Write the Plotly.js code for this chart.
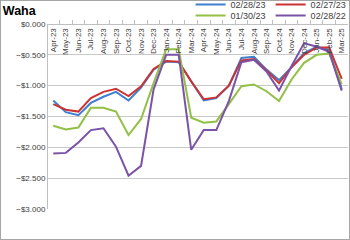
<!DOCTYPE html>
<html><head><meta charset="utf-8">
<script src="https://cdn.plot.ly/plotly-3.0.1.min.js"></script>
<style>
html,body{margin:0;padding:0;background:#fff;}
#wrap{position:relative;width:350px;height:240px;}
#chart{width:350px;height:240px;}
#frame{position:absolute;left:0;top:0;width:348px;height:238px;border:1px solid #a6a6a6;pointer-events:none;}
</style></head>
<body><div id="wrap"><div id="chart"></div><div id="frame"></div></div>
<script>
const categories = ["Apr-23","May-23","Jun-23","Jul-23","Aug-23","Sep-23","Oct-23","Nov-23","Dec-23","Jan-24","Feb-24","Mar-24","Apr-24","May-24","Jun-24","Jul-24","Aug-24","Sep-24","Oct-24","Nov-24","Dec-24","Jan-25","Feb-25","Mar-25"];
const s_022823 = [-1.24,-1.43,-1.48,-1.28,-1.18,-1.10,-1.24,-1.03,-0.74,-0.61,-0.62,-0.94,-1.24,-1.20,-1.00,-0.55,-0.53,-0.74,-0.91,-0.70,-0.47,-0.37,-0.42,-1.06];
const s_022723 = [-1.30,-1.39,-1.42,-1.20,-1.10,-1.05,-1.17,-1.01,-0.73,-0.60,-0.61,-0.93,-1.22,-1.19,-1.00,-0.59,-0.57,-0.75,-0.96,-0.70,-0.50,-0.38,-0.38,-0.89];
const s_013023 = [-1.65,-1.71,-1.68,-1.36,-1.36,-1.42,-1.80,-1.54,-0.96,-0.41,-0.41,-1.52,-1.60,-1.58,-1.30,-1.01,-0.98,-1.09,-1.25,-0.90,-0.63,-0.50,-0.48,-0.98];
const s_022822 = [-2.10,-2.09,-1.92,-1.72,-1.69,-1.99,-2.46,-2.30,-1.06,-0.50,-0.50,-2.04,-1.72,-1.72,-1.25,-0.62,-0.58,-0.77,-1.08,-0.68,-0.31,-0.37,-0.45,-1.08];
const seriesNames = ["02/28/23","02/27/23","01/30/23","02/28/22"];
const seriesColors = ["#3f7fd0","#cc3333","#92c045","#7a52a8"];
const seriesLegends = ["legend","legend","legend2","legend2"];
const seriesData = [s_022823, s_022723, s_013023, s_022822];

const traces = seriesData.map((d,i)=>({
  type:'scatter', mode:'lines', x:categories, y:d, name:seriesNames[i],
  legend:seriesLegends[i],
  line:{color:seriesColors[i], width:2}
}));

const legendBase = {orientation:'h', xanchor:'left', yanchor:'middle',
  font:{size:9, color:'#404040'}, itemwidth:30, tracegroupgap:0,
  bgcolor:'rgba(0,0,0,0)', borderwidth:0, traceorder:'normal'};

const layout = {
  width:350, height:240,
  margin:{l:47, r:2, t:24, b:31, autoexpand:false},
  paper_bgcolor:'#fff', plot_bgcolor:'#fff',
  font:{family:'"Liberation Sans", Arial, sans-serif', size:8, color:'#404040'},
  title:{text:'<b>Waha</b>', x:0.008, xanchor:'left', y:0.955, yanchor:'middle', font:{size:12.5, color:'#000'}},
  xaxis:{type:'category', anchor:'free', position:1, side:'bottom', tickangle:-90,
    showgrid:false, showline:true, linecolor:'#bfbfbf', linewidth:1,
    ticks:'inside', ticklen:4, tickcolor:'#bfbfbf', tickson:'boundaries',
    tickfont:{size:8, color:'#404040'}, range:[-0.5, 23.5], automargin:false},
  yaxis:{range:[-3,0], dtick:0.5, tickformat:'$.3f', showgrid:true, gridcolor:'#c8c8c8', gridwidth:1,
    anchor:'free', position:0,
    showline:true, linecolor:'#bfbfbf', linewidth:1, zeroline:false, ticks:'',
    tickfont:{size:8, color:'#404040'}, automargin:false},
  showlegend:true,
  legend:Object.assign({}, legendBase, {x:0.477, y:1.1054}),
  legend2:Object.assign({}, legendBase, {x:0.477, y:1.046})
};
Plotly.newPlot('chart', traces, layout, {staticPlot:true, displayModeBar:false});
</script>
</body></html>
